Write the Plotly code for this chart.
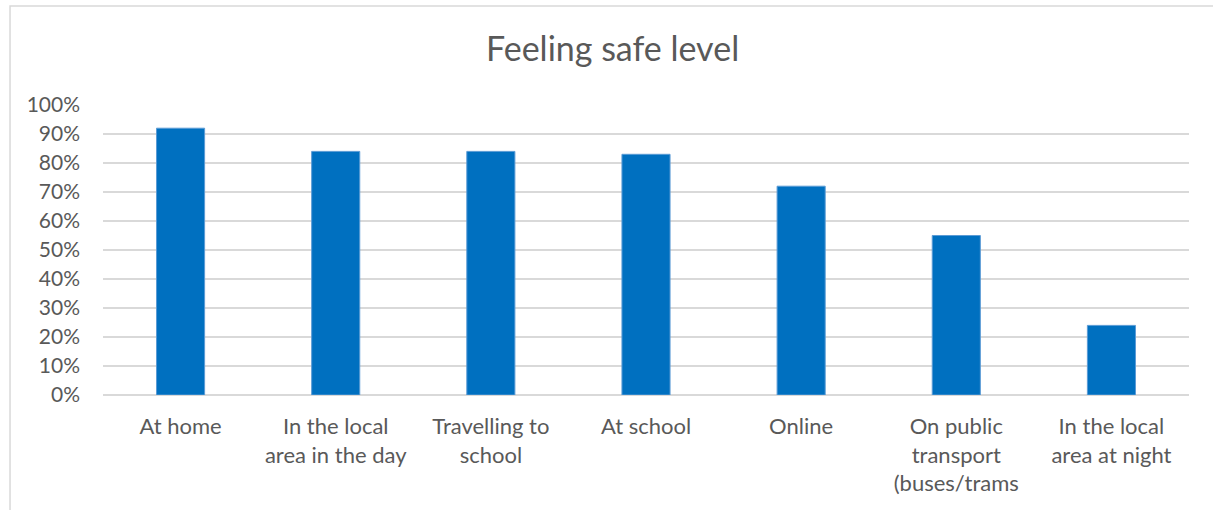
import plotly.graph_objects as go

categories = ["At home", "In the local<br>area in the day", "Travelling to<br>school", "At school",
              "Online", "On public<br>transport<br>(buses/trams", "In the local<br>area at night"]
safe_pct = [0.92, 0.84, 0.84, 0.83, 0.72, 0.55, 0.24]

font_name = "Lato, Open Sans, sans-serif"
grey = "#595959"

fig = go.Figure(go.Bar(
    x=categories,
    y=safe_pct,
    marker=dict(color="#0070C0", line=dict(color="#5B9BD5", width=1)),
    width=0.31,
))

fig.update_layout(
    width=1213, height=510,
    margin=dict(l=103, r=24, t=105, b=115),
    paper_bgcolor="white", plot_bgcolor="white",
    showlegend=False,
    title=dict(text="Feeling safe level", x=0.505, xanchor="center", y=0.903, yanchor="middle",
               font=dict(family=font_name, size=34, color=grey)),
    font=dict(family=font_name, size=21, color=grey),
    xaxis=dict(showgrid=False, showline=False, ticks="", tickangle=0,
               tickfont=dict(size=22), ticklabelstandoff=16),
    yaxis=dict(range=[0, 1.0], tickformat=".0%", dtick=0.1, showgrid=True,
               gridcolor="#D9D9D9", gridwidth=1.5, zeroline=True, zerolinecolor="#D9D9D9",
               zerolinewidth=1.5, ticks="", ticklabelstandoff=22, tickfont=dict(size=21)),
    shapes=[dict(type="rect", xref="paper", yref="paper", x0=-0.0856, x1=1.2, y0=-0.5, y1=1.341,
                 line=dict(color="#D9D9D9", width=1.5))],
)

fig.write_html("out.html", config={"displayModeBar": False},
               post_script="document.body.style.margin='0';")
